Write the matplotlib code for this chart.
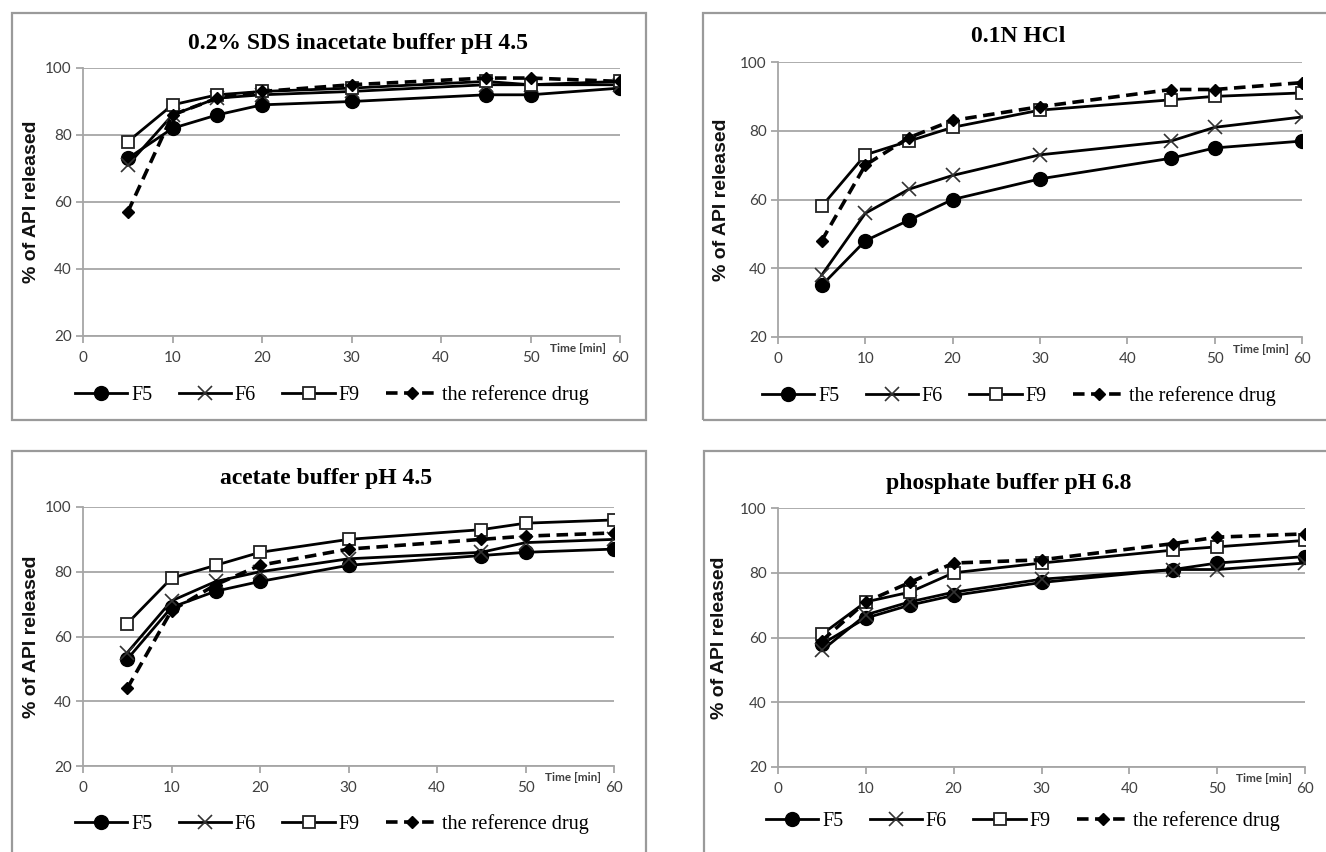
import matplotlib
matplotlib.use("Agg")
import matplotlib.pyplot as plt
from matplotlib.patches import Rectangle

W, H = 1326, 852

# time points (min)
TIME = [5, 10, 15, 20, 30, 45, 50, 60]
SERIES = ["F5", "F6", "F9", "the reference drug"]

TITLES = ["0.2% SDS inacetate buffer pH 4.5", "0.1N HCl",
          "acetate buffer pH 4.5", "phosphate buffer pH 6.8"]

# % of API released, one list per series, per medium
sds_f5 = [73, 82, 86, 89, 90, 92, 92, 94]
sds_f6 = [71, 86, 91, 92, 93, 95, 95, 95]
sds_f9 = [78, 89, 92, 93, 94, 96, 95, 96]
sds_ref = [57, 86, 91, 93, 95, 97, 97, 96]

hcl_f5 = [35, 48, 54, 60, 66, 72, 75, 77]
hcl_f6 = [38, 56, 63, 67, 73, 77, 81, 84]
hcl_f9 = [58, 73, 77, 81, 86, 89, 90, 91]
hcl_ref = [48, 70, 78, 83, 87, 92, 92, 94]

ace_f5 = [53, 69, 74, 77, 82, 85, 86, 87]
ace_f6 = [55, 71, 77, 80, 84, 86, 89, 90]
ace_f9 = [64, 78, 82, 86, 90, 93, 95, 96]
ace_ref = [44, 68, 76, 82, 87, 90, 91, 92]

pho_f5 = [58, 66, 70, 73, 77, 81, 83, 85]
pho_f6 = [56, 67, 71, 74, 78, 81, 81, 83]
pho_f9 = [61, 71, 74, 80, 83, 87, 88, 90]
pho_ref = [59, 71, 77, 83, 84, 89, 91, 92]

DATA = [
    [sds_f5, sds_f6, sds_f9, sds_ref],
    [hcl_f5, hcl_f6, hcl_f9, hcl_ref],
    [ace_f5, ace_f6, ace_f9, ace_ref],
    [pho_f5, pho_f6, pho_f9, pho_ref],
]

# pixel layout of each panel: box, axes, title, legend, ylabel
PANELS = [
    dict(box=(12, 13, 646, 420), ax=(83, 68, 620, 336), title=(358, 43), leg=(332, 395), ylab=32),
    dict(box=(703, 13, 1340, 420), ax=(778, 62, 1302, 337), title=(1018, 36), leg=(1019, 396), ylab=722),
    dict(box=(12, 451, 646, 870), ax=(83, 507, 614, 766), title=(326, 479), leg=(332, 824), ylab=32),
    dict(box=(704, 451, 1340, 870), ax=(778, 508, 1305, 767), title=(1009, 483), leg=(1023, 821), ylab=720),
]

STYLE = [
    dict(marker="o", ms=10, mfc="black", mec="black", ls="-", lw=2.0),
    dict(marker="x", ms=10, mfc="none", mec="#333333", mew=1.2, ls="-", lw=2.0),
    dict(marker="s", ms=9, mfc="white", mec="#222222", mew=1.3, ls="-", lw=2.0),
    dict(marker="D", ms=6.5, mfc="black", mec="black", ls=(0, (3.2, 1.8)), lw=2.6),
]

GRID = "#a6a6a6"
TICK = "#404040"


def fx(px):
    return px / W


def fy(py):
    return 1 - py / H


fig = plt.figure(figsize=(W / 100, H / 100), dpi=100)

for p, series, title in zip(PANELS, DATA, TITLES):
    x0, y0, x1, y1 = p["box"]
    fig.patches.append(Rectangle((fx(x0), fy(y1)), fx(x1 - x0), (y1 - y0) / H,
                                 transform=fig.transFigure, fill=False,
                                 edgecolor="#9a9a9a", lw=1.6))
    a0, b0, a1, b1 = p["ax"]
    ax = fig.add_axes([fx(a0), fy(b1), fx(a1 - a0), (b1 - b0) / H])
    lines = []
    for name, vals, st in zip(SERIES, series, STYLE):
        ln, = ax.plot(TIME, vals, color="black", label=name, zorder=3, **st)
        lines.append(ln)
    ax.set_xlim(0, 60)
    ax.set_ylim(20, 100)
    ax.set_xticks(range(0, 61, 10))
    ax.set_yticks(range(20, 101, 20))
    ax.grid(axis="y", color=GRID, lw=1.3)
    ax.set_axisbelow(True)
    for s in ("top", "right"):
        ax.spines[s].set_visible(False)
    for s in ("left", "bottom"):
        ax.spines[s].set_color(GRID)
        ax.spines[s].set_linewidth(1.3)
    ax.tick_params(axis="both", colors=GRID, width=1.3, length=5,
                   labelcolor=TICK, labelsize=11)
    for lab in ax.get_xticklabels() + ax.get_yticklabels():
        lab.set_family("Lato")
    ax.tick_params(axis="x", pad=6)
    ax.tick_params(axis="y", pad=3)
    ax.text(0.922, -0.025, "Time [min]", transform=ax.transAxes, ha="center",
            va="top", fontsize=8.5, fontweight="bold", family="Lato", color=TICK)
    fig.text(fx(p["title"][0]), fy(p["title"][1]), title, ha="center", va="center",
             fontsize=17, fontweight="bold", family="Liberation Serif")
    fig.text(fx(p["ylab"]), fy((b0 + b1) / 2), "% of API released", rotation=90,
             ha="center", va="center", fontsize=14, fontweight="bold",
             family="Liberation Sans", color="#111111")
    fig.legend(handles=lines, loc="center", ncol=4, frameon=False,
               bbox_to_anchor=(fx(p["leg"][0]), fy(p["leg"][1])),
               prop={"family": "Liberation Serif", "size": 14.5},
               handlelength=2.6, columnspacing=1.3, handletextpad=0.2)

fig.savefig("out.png", dpi=100)
